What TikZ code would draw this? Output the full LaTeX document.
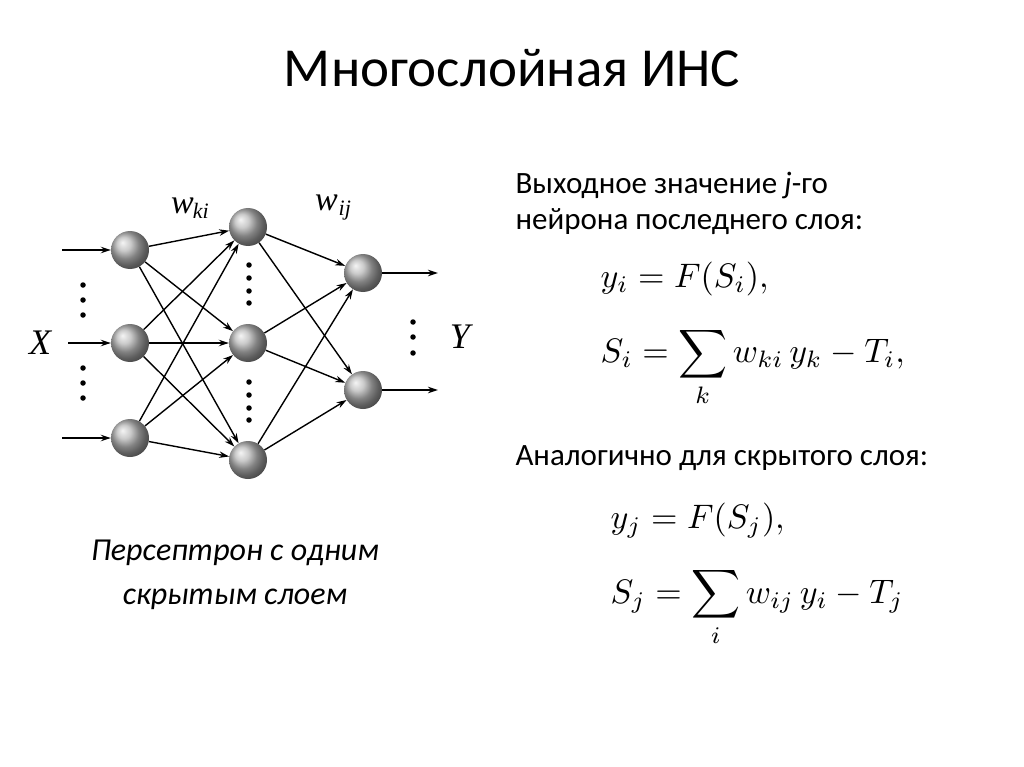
\documentclass[tikz,border=0pt]{standalone}
\usepackage{fontspec}
\setmainfont{Carlito}
\newfontfamily\tms{Liberation Serif}
\usetikzlibrary{arrows.meta}
\begin{document}
\begin{tikzpicture}[x=1pt,y=-1pt,
  neuron/.style={circle,minimum size=38pt,inner sep=0pt,shading=ball,ball color=gray!55!white},
  conn/.style={-{Stealth[length=10pt,width=6.5pt]},line width=1.4pt},
  dot/.style={circle,fill=black,inner sep=0pt,minimum size=5.5pt},
  txt/.style={anchor=west,font=\fontsize{31}{36}\selectfont},
  eq/.style={anchor=west,scale=3.4,inner sep=0pt}]
\useasboundingbox (0,0) rectangle (1024,767);
\node (title) at (512,68) {\fontsize{55}{60}\selectfont Многослойная ИНС};
\node[neuron] (i1) at (130,250) {};
\node[neuron] (i2) at (130,343) {};
\node[neuron] (i3) at (130,438) {};
\node[neuron] (h1) at (248,227) {};
\node[neuron] (h2) at (248,343) {};
\node[neuron] (h3) at (248,460) {};
\node[neuron] (o1) at (363,273) {};
\node[neuron] (o2) at (363,390) {};
\coordinate (a1) at (62,250); \coordinate (a2) at (68,343); \coordinate (a3) at (62,438);
\coordinate (b1) at (438,273); \coordinate (b2) at (438,390);
\foreach \k in {1,2,3} \draw[conn] (a\k) -- (i\k);
\foreach \k in {1,2,3} \foreach \h in {1,2,3} \draw[conn] (i\k) -- (h\h);
\foreach \h in {1,2,3} \foreach \o in {1,2} \draw[conn] (h\h) -- (o\o);
\draw[conn] (o1) -- (b1); \draw[conn] (o2) -- (b2);
\foreach \y in {285,300,315,368,383,398} \node[dot] at (83,\y) {};
\foreach \y in {265,278,291,303,382,395,408,420} \node[dot] at (249,\y) {};
\foreach \y in {322,337,353} \node[dot] at (413,\y) {};
\node (X) at (40,343) {\tms\fontsize{36}{36}\selectfont\itshape X};
\node (Y) at (460,337) {\tms\fontsize{36}{36}\selectfont\itshape Y};
\node (wki) at (190,208) {\tms\fontsize{34}{34}\selectfont\itshape w\kern-1pt\raisebox{-5pt}{\fontsize{22}{22}\selectfont ki}};
\node (wij) at (333,208) {\tms\fontsize{34}{34}\selectfont\itshape w\kern1pt\raisebox{-5pt}{\fontsize{22}{22}\selectfont ij}};
\node[align=center,font=\fontsize{32}{44}\selectfont\itshape] (cap) at (235,575) {Персептрон с одним\\скрытым слоем};
\node[txt] (t1) at (512,185) {Выходное значение \textit{j}-го};
\node[txt] (t2) at (512,222) {нейрона последнего слоя:};
\node[eq] (e1) at (600,279) {$y_i = F(S_i),$};
\node[eq] (e2) at (600,367) {$S_i = \displaystyle\sum_k w_{ki}\,y_k - T_i,$};
\node[txt] (t3) at (512,458) {Аналогично для скрытого слоя:};
\node[eq] (e3) at (610,521) {$y_j = F(S_j),$};
\node[eq] (e4) at (610,607) {$S_j = \displaystyle\sum_i w_{ij}\,y_i - T_j$};
\end{tikzpicture}
\end{document}
